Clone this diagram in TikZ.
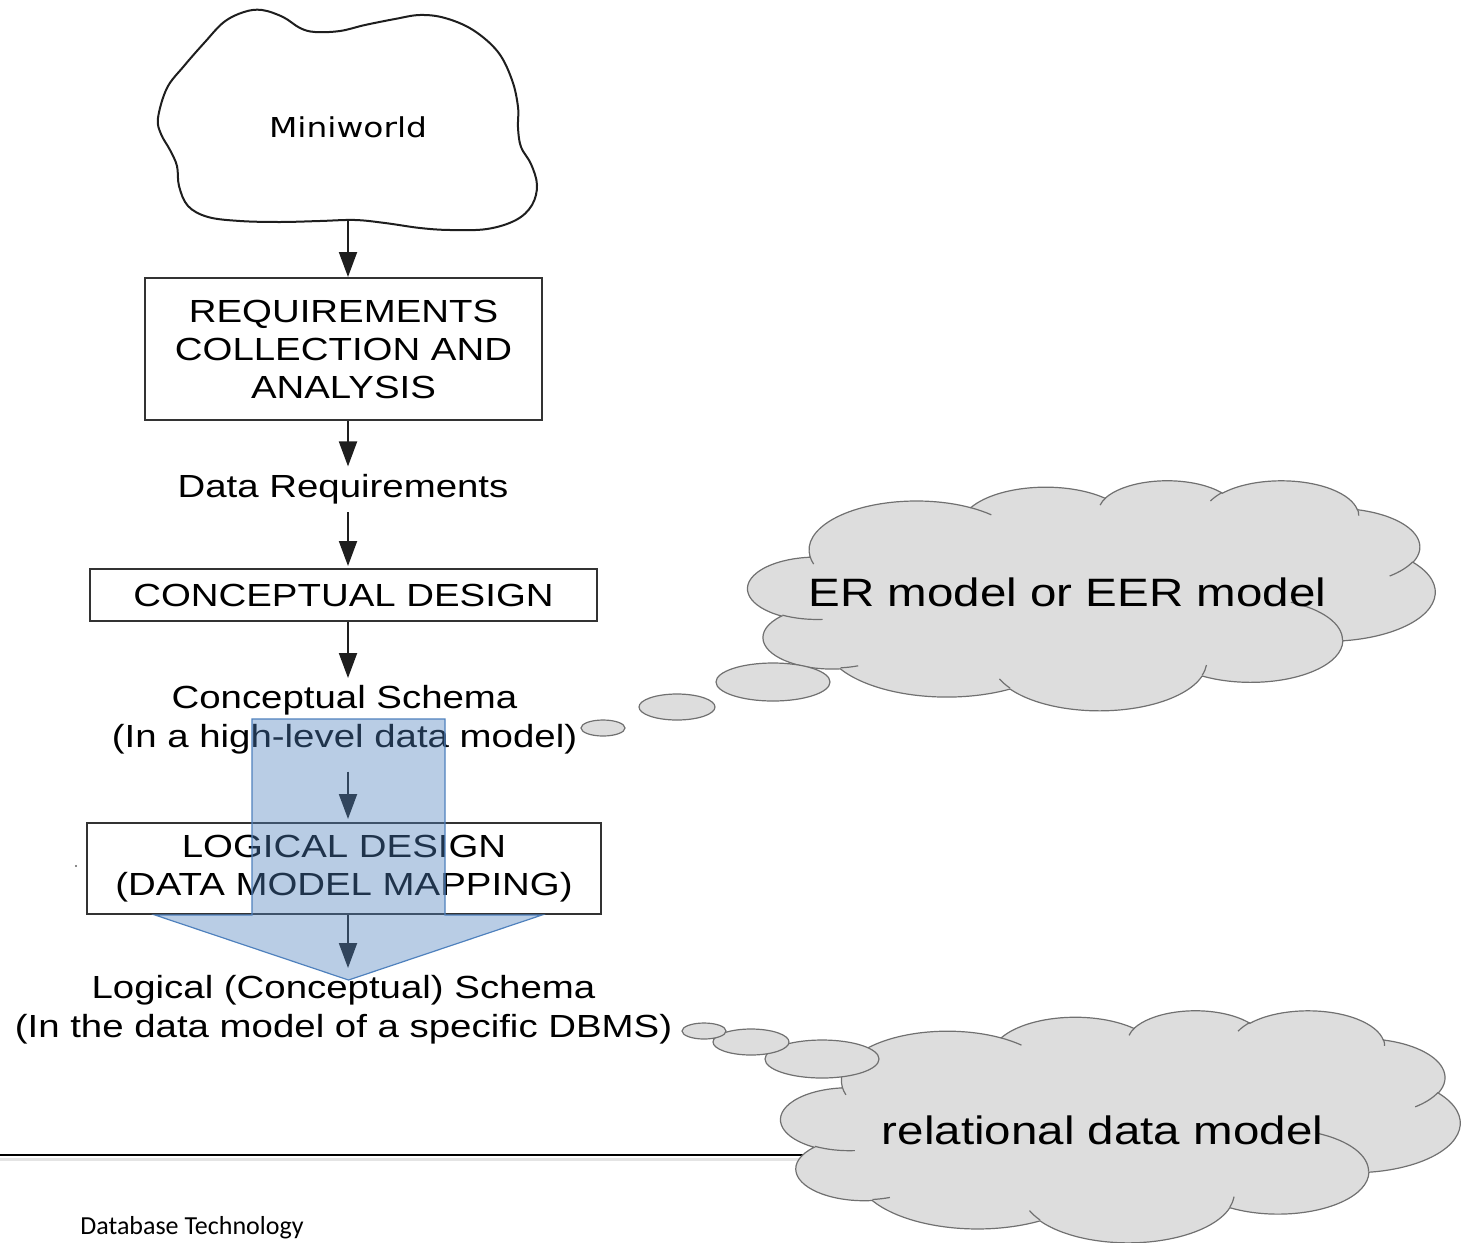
\documentclass[tikz,border=0pt]{standalone}
\usepackage{fontspec}
\usetikzlibrary{arrows.meta}
\newfontfamily\fchart[FakeStretch=1.2]{Liberation Sans}
\newfontfamily\fmini[FakeStretch=1.2]{DejaVu Sans}
\newfontfamily\fdb{Carlito}
\definecolor{cloudfill}{HTML}{DDDDDD}
\definecolor{cloudline}{HTML}{707070}
\definecolor{ovblue}{HTML}{4F81BD}
\definecolor{ink}{HTML}{1E1E1E}
\definecolor{boxline}{HTML}{333333}
\definecolor{shadowline}{HTML}{E4E4E4}
\newcommand{\cloudarc}[4]{arc[x radius=#1, y radius=#2, start angle={atan2(#1*sin(#3),#2*cos(#3))}, delta angle={mod(atan2(#1*sin(#3+#4),#2*cos(#3+#4))-atan2(#1*sin(#3),#2*cos(#3))+720,360)}]}
\newcommand{\cloudoutline}{(39.00,143.70)
  \cloudarc{67.53}{91.90}{-190.48748}{123.78053}
  \cloudarc{53.33}{72.67}{-144.10238}{89.94523}
  \cloudarc{43.65}{59.45}{-145.80792}{99.72302}
  \cloudarc{48.57}{65.95}{-130.98607}{117.24173}
  \cloudarc{53.33}{72.73}{-78.70888}{109.02692}
  \cloudarc{67.75}{92.20}{-46.26725}{130.26900}
  \cloudarc{57.85}{78.67}{0.62502}{114.03333}
  \cloudarc{67.52}{92.15}{22.45160}{115.17255}
  \cloudarc{77.20}{105.43}{66.24263}{75.71102}
  \cloudarc{43.60}{59.18}{-274.94208}{146.73557}
  \cloudarc{43.45}{59.45}{-246.82850}{152.51885}
  -- cycle}
\newcommand{\cloudinner}{(46.93,261.77) \cloudarc{43.45}{59.45}{86.74200}{26.42950}
  (69.28,348.99) \cloudarc{43.60}{59.18}{73.61047}{11.44747}
  (164.78,390.90) \cloudarc{67.52}{92.15}{137.62415}{14.08110}
  (288.27,347.51) \cloudarc{67.52}{92.15}{6.45327}{15.99835}
  (341.29,229.54) \cloudarc{57.85}{78.67}{-70.29235}{70.91737}
  (417.98,153.54) \cloudarc{53.33}{72.73}{30.31803}{27.75150}
  (383.24,54.26) \cloudarc{48.57}{65.95}{-13.74433}{14.85890}
  (290.78,39.52) \cloudarc{48.57}{65.95}{-149.18145}{18.19537}
  (221.41,47.20) \cloudarc{43.65}{59.45}{-163.49427}{17.68635}
  (140.00,51.92) \cloudarc{67.53}{91.90}{-66.70695}{12.31935}
  (41.27,157.89) \cloudarc{67.53}{91.90}{157.65435}{11.85817}}
\begin{document}
\begin{tikzpicture}[x=0.5pt, y=-0.5pt,
  box/.style={draw=boxline, line width=1pt, fill=white, inner sep=0pt, align=center, font=\fontsize{16pt}{19pt}\fchart},
  flowtext/.style={inner sep=0pt, align=center, font=\fontsize{16pt}{19.5pt}\fchart},
  arr/.style={draw=ink, line width=1pt, -{Triangle[length=12.5pt,width=9pt]}},
  thought/.style={fill=cloudfill, draw=cloudline, line width=0.6pt},
  thoughtedge/.style={draw=cloudline, line width=0.6pt},
  bubble/.style={fill=cloudfill, draw=cloudline, line width=0.6pt},
  cloudtext/.style={inner sep=0pt, anchor=base, font=\fontsize{19.8pt}{24pt}\fchart},
  bluearrow/.style={fill=ovblue, fill opacity=0.4, draw=ovblue, line width=0.6pt, line join=miter}]
\useasboundingbox (0,0) rectangle (1475,1242);

% Miniworld cloud
\draw[line width=1pt, draw=ink, fill=white] plot[smooth cycle, tension=0.6] coordinates {
 (158,118) (167,88) (184,66) (205,42) (224,22) (244,12) (262,10) (283,17) (300,28) (315,32)
 (340,31) (365,25) (395,19) (420,15) (445,18) (473,30) (498,52) (512,80) (518,107) (518,128)
 (521,147) (531,164) (537,185) (532,205) (516,220) (487,229) (450,230) (420,228) (385,223)
 (355,220) (320,221) (280,222) (240,221) (208,217) (188,206) (179,186) (177,166) (170,150) (161,134)};
\node[inner sep=0pt, anchor=base, font=\fontsize{13.7pt}{16pt}\fmini] (mini) at (348,137) {Miniworld};
\coordinate (mb) at (348,219);
\coordinate (ax) at (348,0);

% flow chart
\node[box, minimum width=198.5pt, minimum height=71pt] (req) at (343.5,349) {REQUIREMENTS\\COLLECTION AND\\ANALYSIS};
\node[flowtext, anchor=base] (dr) at (343,497) {Data Requirements};
\node[box, minimum width=253.5pt, minimum height=26pt] (cd) at (343.5,595) {CONCEPTUAL DESIGN};
\node[flowtext, anchor=north] (cs) at (344.5,685) {Conceptual Schema\\(In a high-level data model)};
\node[box, minimum width=257pt, minimum height=45.5pt] (ld) at (344,868.5) {LOGICAL DESIGN\\(DATA MODEL MAPPING)};
\node[flowtext, anchor=north] (ls) at (343.5,975) {Logical (Conceptual) Schema\\(In the data model of a specific DBMS)};

\draw[arr] (mb) -- (mb |- req.north);
\draw[arr, shorten >=3.5pt] (req.south -| ax) -- (dr.north -| ax);
\draw[arr, shorten <=4pt, shorten >=1pt] (dr.south -| ax) -- (cd.north -| ax);
\draw[arr, shorten >=3.5pt] (cd.south -| ax) -- (cs.north -| ax);
\draw[arr, shorten <=8.5pt, shorten >=1.5pt] (cs.south -| ax) -- (ld.north -| ax);
\draw[arr, shorten >=3.5pt] (ld.south -| ax) -- (ls.north -| ax);

\fill[ink!70] (76,866) circle[radius=1.2];

% footer line
\draw[shadowline, line width=1.6pt] (0,1159.5) -- (830,1159.5);
\draw[black, line width=1.2pt] (0,1155) -- (830,1155);
\node[inner sep=0pt, anchor=base west, font=\fontsize{13pt}{15pt}\fdb] (db) at (80,1234) {Database Technology};

% thought cloud 1
\begin{scope}[shift={(748,480)}, x=0.79514pt, y=-0.26620pt]
  \filldraw[thought] \cloudoutline;
  \draw[thoughtedge] \cloudinner;
\end{scope}
\draw[bubble] (773,682) ellipse[x radius=57, y radius=19];
\draw[bubble] (677,707) ellipse[x radius=38, y radius=13];
\draw[bubble] (603,728) ellipse[x radius=22, y radius=8];
\node[cloudtext] (er) at (1067.5,606.5) {ER model or EER model};

% thought cloud 2
\begin{scope}[shift={(781,1010)}, x=0.78588pt, y=-0.26852pt]
  \filldraw[thought] \cloudoutline;
  \draw[thoughtedge] \cloudinner;
\end{scope}
\draw[bubble] (822,1059) ellipse[x radius=57, y radius=19];
\draw[bubble] (751,1042) ellipse[x radius=38, y radius=13];
\draw[bubble] (704,1031) ellipse[x radius=22, y radius=8];
\node[cloudtext] (rel) at (1102.5,1144) {relational data model};

% translucent blue arrow
\draw[bluearrow] (252,719) -- (445,719) -- (445,915) -- (542,915) -- (348.5,980) -- (155,915) -- (252,915) -- cycle;
\end{tikzpicture}
\end{document}
